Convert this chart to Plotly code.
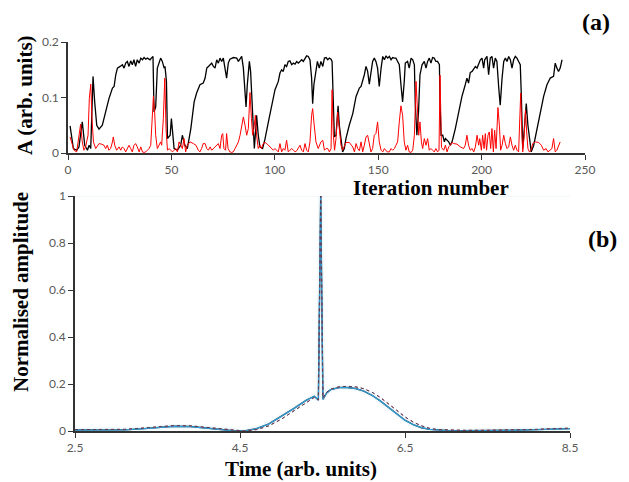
import plotly.graph_objects as go

# ---------------- Panel (a): amplitude vs iteration ----------------
black_iter = [1.0, 2.6, 4.2, 5.3, 6.9, 8.1, 9.4, 10.2, 11.0, 12.1, 12.9, 13.9, 15.0, 16.6, 18.2, 19.8, 21.5, 22.3, 23.1, 23.9,
              25.2, 26.3, 27.1, 27.9, 28.7, 29.5, 30.3, 31.1, 31.9, 32.7, 33.5, 34.4, 35.2, 36.0, 36.8, 37.6, 38.4, 39.7, 40.3, 41.1,
              41.6, 42.4, 43.2, 44.8, 45.6, 46.5, 46.9, 47.6, 48.1, 49.4, 50.0, 50.6, 51.3, 52.9, 54.5, 55.3, 56.5, 57.7, 59.4, 61.0,
              62.2, 63.8, 65.4, 66.3, 67.1, 67.9, 69.5, 70.3, 71.1, 71.9, 72.7, 73.5, 74.3, 75.1, 75.9, 76.7, 77.5, 78.3, 80.0, 81.6,
              82.4, 83.2, 84.0, 84.8, 85.6, 86.1, 86.7, 87.7, 88.3, 89.3, 90.1, 90.7, 91.2, 92.0, 92.8, 94.1, 95.3, 96.9, 98.5, 100.1,
              101.7, 102.5, 103.3, 104.1, 104.9, 105.7, 106.5, 107.3, 108.2, 109.0, 109.8, 110.6, 111.4, 112.2, 113.0, 113.8, 114.6, 115.4, 116.2, 117.0,
              117.8, 118.3, 118.9, 119.9, 120.6, 121.5, 122.3, 123.2, 124.0, 124.8, 125.6, 126.4, 127.2, 127.7, 128.3, 128.8, 129.6, 130.6, 131.2, 132.0,
              132.8, 133.6, 134.4, 136.0, 137.7, 139.3, 140.1, 140.9, 141.7, 142.5, 143.3, 144.1, 144.9, 145.7, 146.5, 147.3, 148.1, 148.9, 149.7, 150.5,
              151.4, 152.2, 153.0, 153.8, 154.6, 155.4, 156.2, 157.0, 157.8, 158.6, 159.4, 160.2, 161.0, 161.8, 162.6, 163.1, 164.2, 165.0, 165.9, 166.7,
              167.5, 167.9, 168.7, 169.5, 170.2, 171.2, 172.3, 173.1, 173.9, 174.7, 175.5, 176.3, 177.1, 177.9, 178.7, 179.6, 179.9, 180.4, 181.2, 182.0,
              182.5, 184.1, 184.9, 185.7, 187.3, 188.9, 190.5, 192.1, 192.9, 193.7, 194.5, 195.4, 196.2, 197.0, 197.8, 198.6, 199.4, 200.2, 201.0, 201.5,
              202.6, 203.4, 204.2, 205.0, 205.8, 206.6, 207.4, 208.3, 209.0, 209.9, 210.7, 211.5, 212.3, 213.1, 213.9, 214.7, 215.5, 216.3, 217.1, 217.9,
              218.7, 219.2, 219.9, 220.8, 221.6, 222.4, 223.3, 224.0, 225.2, 226.8, 228.4, 230.0, 231.6, 233.2, 234.8, 235.6, 236.4, 237.2, 238.0, 238.9]
black_amp = [0.049, 0.008, 0.005, 0.011, 0.056, 0.014, 0.005, 0.014, 0.008, 0.138, 0.092, 0.050, 0.043, 0.050, 0.074, 0.098, 0.117, 0.120, 0.141, 0.153,
             0.156, 0.159, 0.153, 0.162, 0.165, 0.156, 0.166, 0.159, 0.168, 0.156, 0.168, 0.162, 0.171, 0.168, 0.172, 0.169, 0.171, 0.168, 0.171, 0.174,
             0.074, 0.083, 0.153, 0.171, 0.165, 0.153, 0.156, 0.129, 0.026, 0.032, 0.062, 0.038, 0.008, 0.005, 0.014, 0.032, 0.014, 0.008, 0.044, 0.092,
             0.108, 0.123, 0.126, 0.135, 0.153, 0.156, 0.162, 0.156, 0.153, 0.168, 0.162, 0.171, 0.165, 0.171, 0.153, 0.135, 0.162, 0.169, 0.172, 0.171,
             0.165, 0.171, 0.174, 0.153, 0.105, 0.083, 0.123, 0.165, 0.147, 0.062, 0.008, 0.038, 0.068, 0.032, 0.011, 0.008, 0.026, 0.056, 0.086, 0.114,
             0.129, 0.144, 0.150, 0.147, 0.159, 0.156, 0.165, 0.166, 0.159, 0.162, 0.160, 0.165, 0.162, 0.165, 0.168, 0.165, 0.171, 0.175, 0.174, 0.168,
             0.135, 0.089, 0.123, 0.153, 0.165, 0.153, 0.165, 0.156, 0.171, 0.172, 0.168, 0.171, 0.169, 0.165, 0.062, 0.029, 0.032, 0.085, 0.050, 0.020,
             0.002, 0.008, 0.026, 0.050, 0.071, 0.102, 0.111, 0.117, 0.120, 0.129, 0.141, 0.156, 0.147, 0.124, 0.147, 0.165, 0.171, 0.165, 0.153, 0.120,
             0.153, 0.174, 0.168, 0.175, 0.171, 0.174, 0.168, 0.172, 0.171, 0.171, 0.165, 0.159, 0.123, 0.092, 0.129, 0.162, 0.165, 0.153, 0.171, 0.168,
             0.159, 0.092, 0.032, 0.074, 0.141, 0.159, 0.165, 0.153, 0.165, 0.171, 0.162, 0.172, 0.171, 0.165, 0.165, 0.159, 0.092, 0.032, 0.032, 0.020,
             0.026, 0.020, 0.014, 0.020, 0.044, 0.074, 0.102, 0.123, 0.135, 0.126, 0.145, 0.147, 0.153, 0.156, 0.153, 0.162, 0.168, 0.171, 0.153, 0.168,
             0.174, 0.141, 0.171, 0.174, 0.153, 0.171, 0.165, 0.117, 0.086, 0.135, 0.165, 0.171, 0.165, 0.174, 0.168, 0.153, 0.168, 0.174, 0.171, 0.165,
             0.159, 0.105, 0.008, 0.050, 0.089, 0.050, 0.020, 0.002, 0.014, 0.044, 0.074, 0.102, 0.123, 0.135, 0.138, 0.162, 0.153, 0.147, 0.153, 0.168]

red_iter = [1.0, 2.1, 2.9, 4.2, 5.3, 6.1, 6.9, 7.7, 8.5, 9.7, 10.3, 11.0, 11.6, 12.3, 13.4, 14.2, 15.0, 16.1, 17.4, 18.2,
            19.0, 19.8, 20.6, 21.5, 21.9, 22.6, 23.5, 24.7, 25.5, 26.3, 27.1, 27.9, 28.7, 29.5, 30.3, 31.1, 31.9, 32.7, 33.5, 34.4,
            35.2, 36.0, 36.8, 37.6, 38.4, 39.2, 40.0, 40.8, 41.3, 41.9, 42.4, 43.2, 44.0, 44.8, 45.3, 46.1, 46.8, 47.4, 48.1, 48.9,
            49.7, 50.5, 51.3, 52.1, 52.9, 53.7, 54.5, 55.3, 56.1, 56.9, 57.7, 59.0, 60.6, 61.9, 63.0, 63.8, 64.6, 65.4, 66.3, 67.1,
            67.9, 68.7, 69.5, 70.3, 71.1, 71.9, 72.7, 73.5, 74.3, 74.8, 75.4, 76.2, 76.7, 77.4, 78.3, 79.1, 79.9, 80.8, 81.6, 82.4,
            83.2, 84.0, 84.8, 85.6, 86.4, 87.2, 88.0, 88.7, 89.3, 89.9, 90.6, 91.2, 92.0, 92.8, 93.6, 94.4, 95.3, 96.1, 96.9, 97.7,
            98.5, 99.3, 100.1, 100.9, 101.7, 102.5, 103.3, 104.1, 104.9, 105.7, 106.5, 107.3, 108.2, 109.0, 109.8, 110.6, 111.4, 112.2, 113.0, 113.8,
            114.6, 115.4, 116.2, 117.0, 117.8, 118.3, 118.9, 119.9, 121.0, 122.3, 123.2, 124.0, 124.8, 125.6, 126.4, 127.2, 127.7, 128.3, 128.9, 129.6,
            130.4, 131.2, 132.0, 132.8, 133.6, 134.4, 136.0, 136.8, 137.7, 138.5, 139.3, 140.1, 140.9, 141.7, 142.5, 143.3, 144.1, 144.9, 145.7, 146.5,
            147.3, 148.1, 148.9, 149.7, 150.5, 151.4, 152.2, 153.0, 153.8, 154.6, 155.4, 156.2, 157.0, 157.8, 158.6, 159.4, 160.2, 161.0, 161.8, 162.6,
            163.4, 164.2, 165.0, 165.9, 166.7, 167.5, 168.3, 168.9, 169.6, 170.2, 170.9, 171.5, 172.3, 173.1, 173.9, 174.7, 175.5, 176.3, 177.1, 177.9,
            178.7, 179.4, 179.9, 180.6, 181.7, 182.5, 183.3, 184.1, 184.9, 185.7, 186.5, 188.1, 189.7, 191.3, 192.1, 192.9, 193.7, 194.5, 195.4, 196.2,
            197.0, 197.8, 198.6, 199.1, 199.9, 200.5, 201.2, 201.8, 202.4, 203.1, 203.7, 204.4, 205.0, 205.7, 206.3, 207.0, 207.4, 207.9, 208.6, 209.2,
            209.9, 210.7, 211.5, 212.3, 213.1, 213.9, 214.7, 215.5, 216.3, 217.1, 217.9, 218.2, 218.9, 219.5, 219.9, 220.6, 221.2, 221.8, 222.4, 223.1,
            224.0, 224.7, 226.0, 227.6, 228.9, 230.0, 231.2, 232.1, 233.2, 234.0, 234.8, 235.6, 236.4, 237.2, 238.0]
red_amp = [0.029, 0.014, 0.005, 0.002, 0.032, 0.052, 0.020, 0.005, 0.011, 0.032, 0.098, 0.124, 0.062, 0.020, 0.008, 0.014, 0.017, 0.016, 0.014, 0.008,
           0.014, 0.005, 0.008, 0.020, 0.029, 0.014, 0.005, 0.011, 0.005, 0.011, 0.008, 0.002, 0.008, 0.014, 0.008, 0.002, 0.014, 0.017, 0.011, 0.002,
           0.011, 0.002, 0.001, 0.002, 0.005, 0.008, 0.014, 0.062, 0.102, 0.074, 0.032, 0.008, 0.014, 0.020, 0.014, 0.062, 0.135, 0.044, 0.005, 0.008,
           0.005, 0.002, 0.005, 0.008, 0.002, 0.020, 0.014, 0.008, 0.026, 0.002, 0.014, 0.020, 0.017, 0.014, 0.005, 0.002, 0.008, 0.017, 0.017, 0.008,
           0.005, 0.011, 0.005, 0.008, 0.011, 0.014, 0.017, 0.008, 0.032, 0.035, 0.008, 0.005, 0.035, 0.008, 0.002, 0.001, 0.002, 0.008, 0.014, 0.020,
           0.032, 0.050, 0.065, 0.050, 0.032, 0.044, 0.109, 0.062, 0.032, 0.044, 0.068, 0.032, 0.008, 0.014, 0.008, 0.017, 0.019, 0.017, 0.014, 0.011,
           0.008, 0.005, 0.008, 0.005, 0.002, 0.017, 0.002, 0.008, 0.005, 0.023, 0.002, 0.005, 0.008, 0.005, 0.002, 0.004, 0.008, 0.014, 0.005, 0.002,
           0.017, 0.005, 0.002, 0.020, 0.068, 0.080, 0.056, 0.020, 0.008, 0.020, 0.023, 0.005, 0.008, 0.008, 0.002, 0.008, 0.114, 0.032, 0.005, 0.026,
           0.074, 0.038, 0.014, 0.005, 0.014, 0.019, 0.019, 0.016, 0.011, 0.002, 0.017, 0.008, 0.004, 0.020, 0.002, 0.014, 0.029, 0.032, 0.014, 0.002,
           0.008, 0.032, 0.035, 0.056, 0.020, 0.005, 0.002, 0.008, 0.004, 0.002, 0.002, 0.008, 0.005, 0.008, 0.014, 0.020, 0.056, 0.085, 0.068, 0.020,
           0.005, 0.014, 0.002, 0.001, 0.005, 0.032, 0.129, 0.068, 0.032, 0.056, 0.020, 0.008, 0.026, 0.014, 0.026, 0.005, 0.008, 0.005, 0.002, 0.008,
           0.002, 0.005, 0.140, 0.010, 0.005, 0.014, 0.002, 0.011, 0.014, 0.019, 0.017, 0.016, 0.011, 0.008, 0.014, 0.032, 0.014, 0.005, 0.008, 0.002,
           0.011, 0.032, 0.014, 0.026, 0.005, 0.032, 0.008, 0.035, 0.005, 0.032, 0.038, 0.008, 0.044, 0.002, 0.041, 0.008, 0.062, 0.082, 0.050, 0.005,
           0.014, 0.032, 0.017, 0.008, 0.011, 0.029, 0.014, 0.005, 0.014, 0.005, 0.002, 0.032, 0.108, 0.032, 0.002, 0.032, 0.077, 0.038, 0.008, 0.002,
           0.005, 0.017, 0.020, 0.019, 0.014, 0.005, 0.008, 0.002, 0.005, 0.008, 0.026, 0.002, 0.005, 0.014, 0.020]

iter_ticks = [0, 50, 100, 150, 200, 250]
amp_ticks = [0, 0.1, 0.2]
amp_tick_text = ["0", "0.1", "0.2"]

# ---------------- Panel (b): normalised amplitude vs time ----------------
time_pts = [2.5, 2.8, 3.1, 3.3, 3.5, 3.7, 3.9, 4.1, 4.3, 4.45, 4.55, 4.7, 4.85, 5.0, 5.15, 5.3, 5.4, 5.45, 5.478, 5.505,
            5.52, 5.55, 5.6, 5.7, 5.8, 5.9, 6.0, 6.1, 6.2, 6.3, 6.4, 6.5, 6.6, 6.7, 6.8, 6.9, 7.0, 7.2, 7.5, 7.8,
            8.1, 8.3, 8.5]
solid_amp = [0.004, 0.004, 0.005, 0.009, 0.015, 0.020, 0.019, 0.012, 0.004, 0.000, 0.000, 0.010, 0.030, 0.062, 0.095, 0.130, 0.148, 0.132, 1.000, 0.135,
             0.145, 0.162, 0.176, 0.185, 0.185, 0.181, 0.170, 0.152, 0.128, 0.100, 0.072, 0.046, 0.027, 0.014, 0.007, 0.003, 0.002, 0.001, 0.001, 0.003,
             0.006, 0.008, 0.010]
dotted_amp = [0.006, 0.006, 0.007, 0.012, 0.018, 0.023, 0.022, 0.015, 0.006, 0.001, 0.000, 0.006, 0.022, 0.050, 0.085, 0.122, 0.143, 0.132, 1.000, 0.140,
              0.148, 0.165, 0.178, 0.188, 0.190, 0.188, 0.180, 0.165, 0.143, 0.117, 0.088, 0.060, 0.038, 0.022, 0.011, 0.006, 0.004, 0.003, 0.003, 0.004,
              0.007, 0.010, 0.012]

time_ticks = [2.5, 4.5, 6.5, 8.5]
time_tick_text = ["2.5", "4.5", "6.5", "8.5"]
norm_ticks = [0, 0.2, 0.4, 0.6, 0.8, 1]
norm_tick_text = ["0", "0.2", "0.4", "0.6", "0.8", "1"]

# The page body has an 8 px margin, so the figure starts 8 px in from the window edge;
# the figure keeps the full window size so nothing near the lower/right edges is clipped.
W, H, BODY = 629, 482, 8

def px(x):
    return (x - BODY) / W

def py(y):
    return 1 - (y - BODY) / H

fig = go.Figure()

# Panel (a)
fig.add_trace(go.Scatter(x=black_iter, y=black_amp, mode="lines", line=dict(color="#000000", width=1.3),
                         xaxis="x", yaxis="y", showlegend=False))
fig.add_trace(go.Scatter(x=red_iter, y=red_amp, mode="lines", line=dict(color="#ff0000", width=1.0),
                         xaxis="x", yaxis="y", showlegend=False))

# Panel (b)
fig.add_trace(go.Scatter(x=time_pts, y=solid_amp, mode="lines", line=dict(color="rgba(170,225,240,0.18)", width=5),
                         xaxis="x2", yaxis="y2", showlegend=False, cliponaxis=False))
fig.add_trace(go.Scatter(x=time_pts, y=solid_amp, mode="lines", line=dict(color="#3c3c50", width=1.4),
                         xaxis="x2", yaxis="y2", showlegend=False, cliponaxis=False))
fig.add_trace(go.Scatter(x=time_pts, y=solid_amp, mode="lines", line=dict(color="#2aa0d8", width=1.2),
                         xaxis="x2", yaxis="y2", showlegend=False, cliponaxis=False))
fig.add_trace(go.Scatter(x=time_pts, y=dotted_amp, mode="lines", line=dict(color="#d23c64", width=1.0, dash="dot"),
                         xaxis="x2", yaxis="y2", showlegend=False, cliponaxis=False))
fig.add_trace(go.Scatter(x=time_pts, y=dotted_amp, mode="lines", line=dict(color="#404050", width=0.9, dash="dot"),
                         xaxis="x2", yaxis="y2", showlegend=False, cliponaxis=False))

tick_font = dict(family="Lato, Open Sans, sans-serif", size=12, color="#595959")
axis_common = dict(showgrid=False, zeroline=False, showline=True, linecolor="#333333", automargin=False,
                   ticks="outside", ticklen=5, tickcolor="#333333", tickfont=tick_font)

fig.update_layout(
    width=W, height=H,
    autosize=False,
    margin=dict(l=0, r=0, t=0, b=0, pad=0, autoexpand=False),
    paper_bgcolor="white", plot_bgcolor="white",
    xaxis=dict(domain=[px(68), px(585)], range=[0, 250], tickvals=iter_ticks, anchor="y",
               linewidth=2, **axis_common),
    yaxis=dict(domain=[py(153), py(42)], range=[0, 0.2], tickvals=amp_ticks, ticktext=amp_tick_text,
               anchor="x", linewidth=1.5, **axis_common),
    xaxis2=dict(domain=[px(75), px(570)], range=[2.5, 8.5], tickvals=time_ticks, ticktext=time_tick_text,
                anchor="y2", linewidth=2, **axis_common),
    yaxis2=dict(domain=[py(431), py(196)], range=[0, 1], tickvals=norm_ticks, ticktext=norm_tick_text,
                anchor="x2", linewidth=1.5, **axis_common),
)

fig.add_shape(type="line", xref="x2", yref="y2", x0=2.5, x1=8.5, y0=1, y1=1,
              line=dict(color="#e6eff3", width=1), layer="below")

title_font = dict(family="Liberation Serif, Times New Roman, serif", size=21, color="#000000")
notes = [
    ("<b>A (arb. units)</b>", 25, 95, -90, 21),
    ("<b>Iteration number</b>", 431, 188, 0, 21),
    ("<b>(a)</b>", 596, 22, 0, 24),
    ("<b>Normalised amplitude</b>", 21, 292, -90, 21),
    ("<b>Time (arb. units)</b>", 301, 469, 0, 21),
    ("<b>(b)</b>", 602, 239, 0, 24),
]
for text, x, y, ang, sz in notes:
    fig.add_annotation(text=text, x=px(x), y=py(y), xref="paper", yref="paper",
                       xanchor="center", yanchor="middle", showarrow=False, textangle=ang,
                       font=dict(title_font, size=sz))

fig.write_html("out.html")
